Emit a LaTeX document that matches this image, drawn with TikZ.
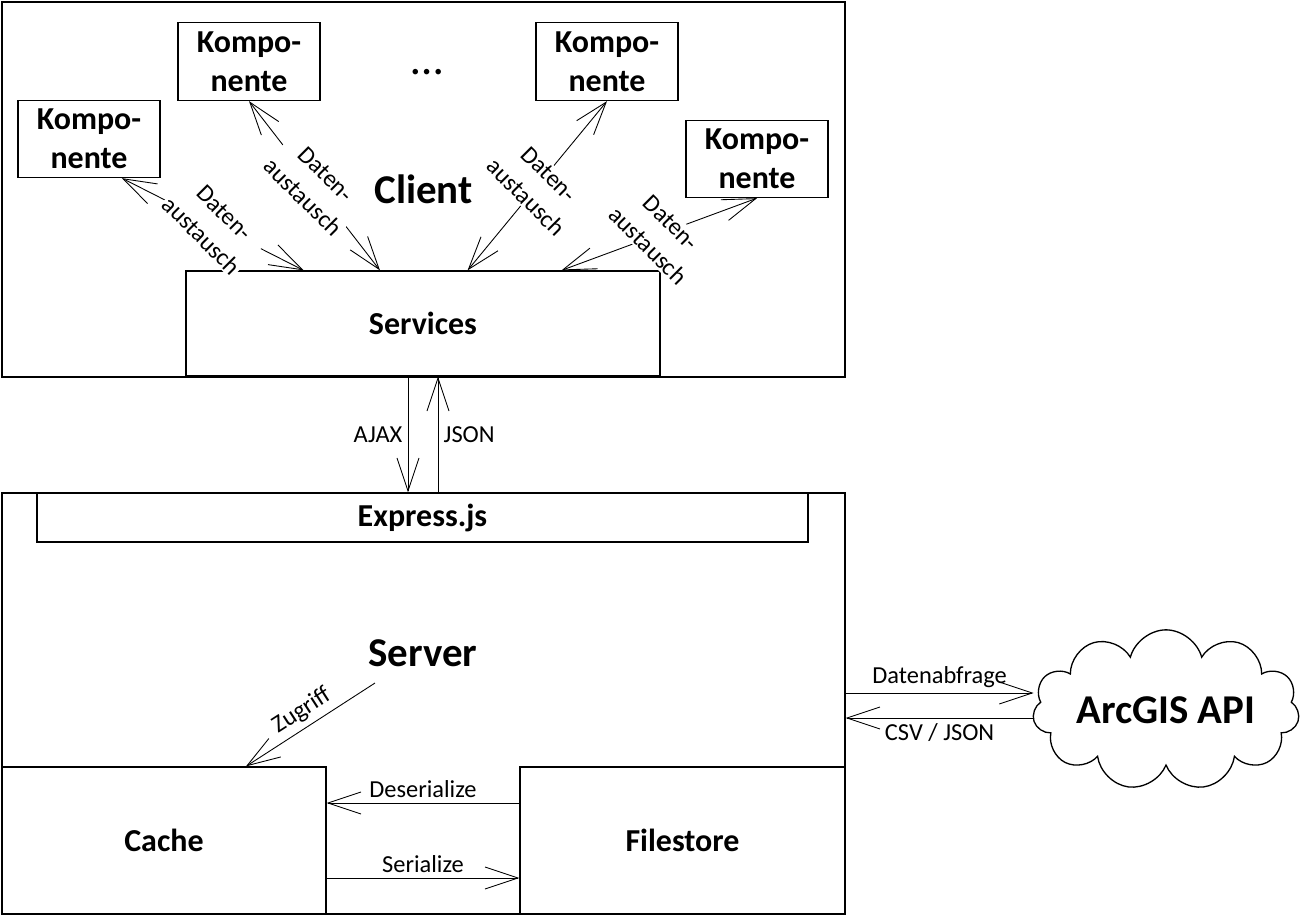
\documentclass[tikz,border=0pt]{standalone}
\usepackage{fontspec}
\setmainfont{Carlito}
\usepackage{tikz}
\usetikzlibrary{positioning, arrows.meta, shapes.symbols, calc}
\tikzstyle{frame}=[%
      rectangle, draw=black, line width=0.75pt, fill=white, inner sep=0pt,
      minimum width=16.86cm
]
\tikzstyle{komp}=[%
      rectangle, draw=black, line width=0.75pt, fill=white, align=center,
      minimum width=2.84cm, minimum height=1.54cm, inner sep=0pt,
      font=\fontsize{18.2}{22.2}\selectfont\bfseries
]
\tikzstyle{blk}=[%
      rectangle, draw=black, line width=0.75pt, fill=white, inner sep=0pt,
      font=\fontsize{18.2}{22.2}\selectfont\bfseries
]
\tikzstyle{big}=[font=\fontsize{23.3}{28}\selectfont\bfseries]
\tikzstyle{lbl}=[font=\fontsize{13.9}{18.6}\selectfont, inner sep=3pt]
\tikzstyle{xchg}=[%
      lbl, fill=white, align=center, rotate=-45, midway, inner sep=1pt
]
\tikzstyle{tip}=[%
      line width=0.5pt, -{Straight Barb[length=6.6mm,width=4.4mm]}
]
\tikzstyle{tipback}=[%
      line width=0.5pt, {Straight Barb[length=6.6mm,width=4.4mm]}-
]
\tikzstyle{both}=[%
      line width=0.5pt, {Straight Barb[length=6.6mm,width=4.4mm]}-{Straight Barb[length=6.6mm,width=4.4mm]}
]

\begin{document}
\begin{tikzpicture}[x=0.02cm, y=-0.02cm]
    \useasboundingbox (0,0) rectangle (1300,916);

    % client side
    \node[frame, minimum height=7.5cm, big]   (client) at (423.5,189.5) {Client};
    \node[blk, minimum width=9.48cm, minimum height=2.1cm] (svc) at (423,323.5) {Services};
    \node[komp] (k1) at (89,139)  {Kompo-\\nente};
    \node[komp, minimum height=1.56cm] (k2) at (249,61.5)    {Kompo-\\nente};
    \node[komp, minimum height=1.56cm] (k3) at (607,61.5)    {Kompo-\\nente};
    \node[komp] (k4) at (757,159) {Kompo-\\nente};
    \node[big, font=\fontsize{26}{30}\selectfont] (dots) at (427,72)  {…};

    \draw[both] (k1.-50) -- node[xchg] {Daten-\\austausch} (svc.156);
    \draw[both] (k2.south) -- node[xchg] {Daten-\\austausch} (svc.129);
    \draw[both] (k3.south) -- node[xchg] {Daten-\\austausch} (svc.50);
    \draw[both] (k4.south) -- node[xchg] {Daten-\\austausch} (svc.21);

    % server side
    \node[frame, minimum height=8.42cm] (srv) at (423.5,703.5) {};
    \node[blk, minimum width=15.42cm, minimum height=0.98cm] (exp) at (422.5,517.5) {Express.js};
    \node[big] (srvtitle) at (423,653) {Server};
    \node[blk, minimum width=6.48cm, minimum height=2.94cm] (cache) at (164,840.5) {Cache};
    \node[blk, minimum width=6.5cm, minimum height=2.94cm]  (fs) at (682.5,840.5) {Filestore};
    \node[cloud, draw=black, line width=0.75pt, cloud puffs=11, aspect=2.3,
          minimum width=5.15cm, minimum height=2.2cm, inner sep=0pt, big] (arc) at (1166,710)
          {\raisebox{-0.26cm}{ArcGIS API}};
    \coordinate (zg) at (375,683);

    \draw[tip] ([xshift=-0.3cm]svc.south) -- ([xshift=-0.3cm]svc.south |- exp.north)
        node[lbl, midway, left] {AJAX};
    \draw[tipback] ([xshift=0.3cm]svc.south) -- ([xshift=0.3cm]svc.south |- exp.north)
        node[lbl, midway, right] {JSON};

    \draw[tipback] ([xshift=1.64cm]cache.north) -- node[lbl, above, sloped] {Zugriff} (zg);

    \draw[tip] ([yshift=0.75cm]fs.west) -- node[lbl, above] {Deserialize} ([yshift=0.75cm]cache.east);
    \draw[tip] ([yshift=-0.75cm]cache.east) -- node[lbl, above] {Serialize} ([yshift=-0.75cm]fs.west);

    \draw[tip] ([yshift=0.21cm]srv.east) -- node[lbl, above] {Datenabfrage} ([yshift=0.21cm]srv.east -| arc.west);
    \draw[tipback] ([yshift=-0.29cm]srv.east) -- node[lbl, below] {CSV / JSON} ([yshift=-0.29cm]srv.east -| arc.west);
\end{tikzpicture}
\end{document}
